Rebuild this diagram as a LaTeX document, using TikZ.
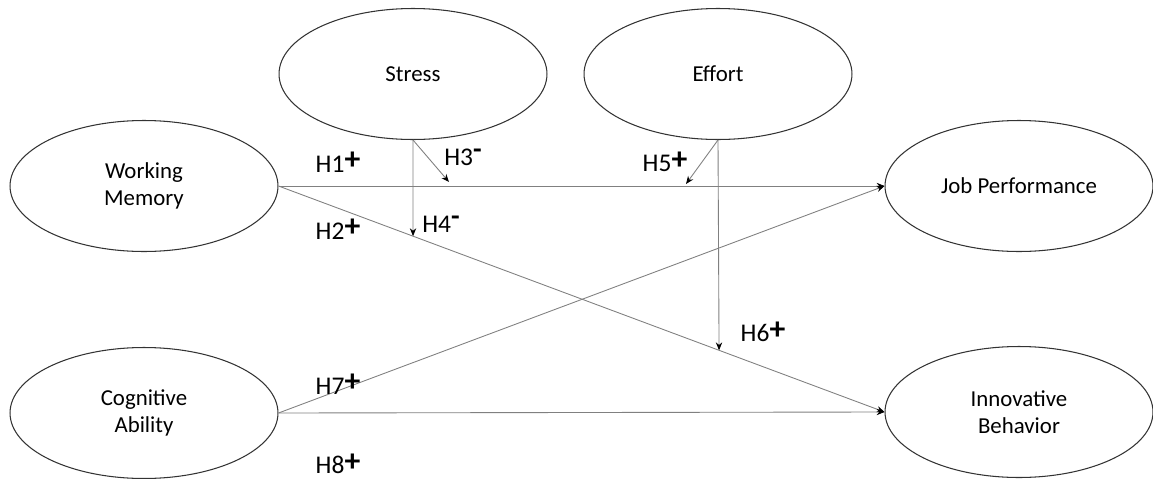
\documentclass[tikz,border=0pt]{standalone}
\usepackage{fontspec}
\setmainfont{Carlito}
\usetikzlibrary{shapes.geometric, arrows.meta, positioning, calc}
\tikzstyle{construct} = [ellipse, minimum width=5.36cm, minimum height=2.62cm, inner sep=0pt, text centered, align=center, draw=black!80, line width=0.6pt, font=\fontsize{13}{15.4}\selectfont]
\tikzstyle{hyp} = [inner sep=0pt, font=\fontsize{14.5}{16}\selectfont]
\tikzstyle{arrow} = [draw=black!50, line width=0.5pt, -{Stealth[black, length=4.5pt, width=3.6pt]}]
\newcommand{\hplus}[1]{H#1\raisebox{0.1em}{\bfseries\fontsize{18}{18}\selectfont +}}
\newcommand{\hminus}[1]{H#1\raisebox{0.25em}{\bfseries\fontsize{16}{16}\selectfont -}}

\begin{document}
\begin{tikzpicture}[x=0.02cm, y=0.02cm]
    \useasboundingbox (0,0) rectangle (1153,478);

    % Nodes
    \node (wm) [construct] at (144,292) {Working\\Memory};
    \node (ca) [construct] at (144,65) {Cognitive\\Ability};
    \node (stress) [construct] at (413,404) {Stress};
    \node (effort) [construct] at (718,404) {Effort};
    \node (jp) [construct] at (1019,292) {Job Performance};
    \node (ib) [construct] at (1019,66) {Innovative\\Behavior};

    % Arrow ends
    \coordinate (h3tip) at (449,296);
    \coordinate (h5tip) at (686,294);
    \coordinate (h4tip) at ($(wm.east)!0.222!(ib.west)$);
    \coordinate (h6tip) at ($(wm.east)!0.727!(ib.west)$);

    % Arrows
    \draw [arrow] (wm.east) -- (jp.west);
    \draw [arrow] (wm.east) -- (ib.west);
    \draw [arrow] (ca.east) -- (jp.west);
    \draw [arrow] (ca.east) -- (ib.west);
    \draw [arrow] (stress.south) -- (h3tip);
    \draw [arrow] (stress.south) -- (h4tip);
    \draw [arrow] (effort.south) -- (h5tip);
    \draw [arrow] (effort.south) -- (h6tip);

    % Labels
    \node (h1) [hyp] at (338,316) {\hplus{1}};
    \node (h2) [hyp] at (338,249) {\hplus{2}};
    \node (h3) [hyp] at (463,321) {\hminus{3}};
    \node (h4) [hyp] at (441,254) {\hminus{4}};
    \node (h5) [hyp] at (665,316) {\hplus{5}};
    \node (h6) [hyp] at (763,146) {\hplus{6}};
    \node (h7) [hyp] at (338,94) {\hplus{7}};
    \node (h8) [hyp] at (338,14) {\hplus{8}};

\end{tikzpicture}
\end{document}
